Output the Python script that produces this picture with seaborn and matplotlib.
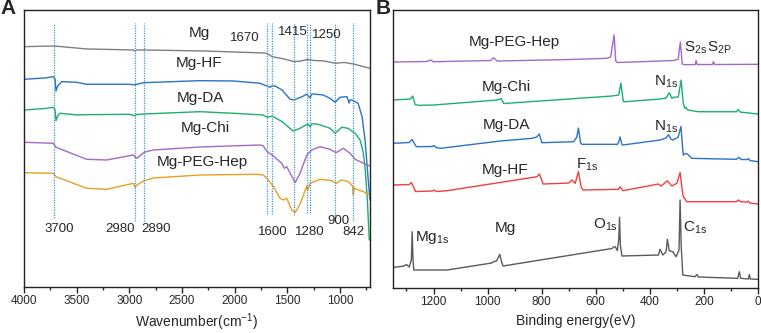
import numpy as np
import pandas as pd
import matplotlib
matplotlib.use("Agg")
import matplotlib.pyplot as plt
from matplotlib.ticker import MultipleLocator
import seaborn as sns

# ---------------- Panel A: FTIR (wavenumber, transmittance a.u.) ----------------
mg_wn = [4000, 3715, 3405, 2960, 2946, 2930, 2860, 2300, 1727, 1692, 1645, 1530, 1436, 1370, 1309, 1250, 1150, 1046, 960, 873, 800, 715]
mg_t = [253.3, 254, 251, 250, 248.8, 250, 250, 249, 247, 246.5, 243.3, 241, 238.3, 239, 240.5, 239.5, 239, 236.7, 237.5, 236, 234, 231.7]

blue_wn = [4000, 3800, 3722, 3705, 3696, 3680, 3642, 3500, 3405, 3000, 2946, 2930, 2860, 2329, 2015, 1759, 1730, 1664, 1645, 1616, 1550, 1474, 1436, 1359, 1315, 1284, 1268, 1255, 1160, 1094, 1046, 1000, 933, 914, 904, 888, 828, 790, 762, 743, 724, 715]
blue_t = [220.7, 222, 223.3, 221, 209, 214, 218.3, 217.7, 215.7, 215.7, 215, 215.7, 217.3, 219.3, 219, 216.7, 215.5, 212.7, 214, 214, 210, 200.7, 200, 203.3, 205.7, 202, 206, 206, 205, 201.7, 197.7, 202.7, 203.3, 197, 200, 200, 196.7, 183.3, 160, 135, 110, 100]

green_wn = [4000, 3800, 3722, 3705, 3696, 3680, 3658, 3500, 3405, 3000, 2946, 2930, 2860, 2329, 2015, 1730, 1692, 1645, 1550, 1445, 1379, 1303, 1284, 1268, 1217, 1094, 1046, 983, 923, 857, 809, 780, 760, 740, 722]
green_t = [190, 191.5, 192.7, 190, 179.3, 184, 186.7, 185, 185.3, 185.7, 184.3, 185.5, 186, 188.3, 186.7, 185, 182.7, 184, 178.3, 169, 171.7, 176, 173.3, 176, 176, 171.7, 166.7, 172.7, 171.7, 166.7, 160, 148, 130, 100, 60]

purple_wn = [4000, 3722, 3696, 3405, 3215, 2960, 2946, 2927, 2860, 2772, 2329, 1759, 1730, 1692, 1645, 1553, 1528, 1505, 1426, 1379, 1315, 1268, 1189, 1094, 1037, 968, 904, 857, 778, 715]
purple_t = [157.7, 156.7, 152.7, 140.7, 140, 145, 143, 141.7, 147.7, 150, 153, 155, 154.3, 148.3, 145, 136.7, 131.7, 133.3, 117.3, 126.7, 145, 150, 153.3, 150.7, 147.3, 151.7, 146.7, 140.7, 136.7, 134]

orange_wn = [4000, 3722, 3696, 3405, 3215, 2960, 2946, 2927, 2860, 2772, 2329, 1790, 1727, 1680, 1632, 1569, 1537, 1505, 1458, 1426, 1379, 1315, 1307, 1284, 1189, 1078, 1037, 983, 920, 880, 873, 866, 840, 778, 715]
orange_t = [127.3, 126.7, 123.3, 111.7, 110.7, 116.7, 112.7, 115, 119.3, 122, 125, 125.7, 125, 120, 113.3, 101.7, 100, 101.7, 90, 87.3, 96, 114, 109.3, 116.7, 120.7, 119.3, 116.7, 120, 118.3, 114, 105, 112, 110.7, 108.3, 105]

ftir_marks = [3712, 2946, 2857, 1695, 1648, 1436, 1309, 1284, 1046, 873]
ftir_mark_labels = ["3700", "2980", "2890", "1670", "1600", "1415", "1280", "1250", "900", "842"]

# ---------------- Panel B: XPS (binding energy, intensity a.u.) ----------------
x_mg = [1350, 1310, 1300, 1290, 1282, 1279, 1276, 1273, 1150, 985, 977, 967, 958, 955, 948, 943, 540, 534, 528, 520, 515, 512, 509, 503, 368, 362, 352, 340, 335, 328, 315, 303, 292, 288, 284, 278, 233, 226, 220, 75, 69, 64, 35, 32, 28, 0]
i_mg = [32.5, 34, 35.5, 33, 40, 68.3, 40, 30, 30, 37, 38.5, 39, 44, 45.5, 38, 34, 51.5, 53, 53.3, 49.5, 60, 82.7, 55, 44, 45, 50.7, 45, 48, 60.7, 49.3, 48.3, 43.3, 50, 100, 55, 25, 23.3, 25.5, 23, 21.7, 28.3, 21.7, 21, 25.5, 21, 20.7]

x_hf = [1350, 1290, 1282, 1272, 1267, 1205, 1199, 1190, 1150, 817, 808, 795, 700, 688, 676, 664, 654, 647, 516, 510, 500, 368, 358, 335, 319, 300, 288, 280, 276, 263, 80, 72, 65, 40, 35, 30, 0]
i_hf = [115, 115.5, 117.5, 112, 108.5, 109, 110, 108.5, 109.3, 123.3, 126, 116, 117, 120, 116.7, 128.5, 113, 110, 110.7, 113.3, 109.3, 116, 114, 119.3, 114, 116.7, 127.5, 110, 103.3, 98.3, 98.3, 100, 98.3, 98, 99, 97, 96]

x_da = [1350, 1290, 1279, 1270, 1263, 1205, 1199, 1190, 1174, 953, 836, 818, 809, 799, 682, 670, 664, 656, 651, 520, 515, 510, 503, 500, 362, 340, 331, 322, 315, 303, 295, 285, 278, 276, 268, 261, 245, 80, 70, 62, 40, 35, 30, 0]
i_da = [156.7, 157.5, 160.5, 156, 153.3, 153.5, 154.5, 152.5, 151.7, 159, 161.7, 163, 166, 157.3, 158.3, 163, 172, 157, 155.7, 155.7, 158, 163, 155.5, 155, 160, 162, 165.3, 161, 160, 161.7, 163, 173.5, 150, 145, 146.5, 146, 141.7, 140.7, 142.7, 140.5, 140.5, 141.5, 139.5, 138.3]

x_chi = [1350, 1285, 1277, 1268, 1255, 1200, 965, 950, 940, 700, 540, 515, 507, 498, 490, 364, 340, 328, 318, 313, 295, 284, 276, 270, 266, 260, 220, 80, 73, 66, 0]
i_chi = [200, 201, 204, 195.5, 194.7, 195, 200, 201.5, 196.5, 201, 204, 205, 217, 198.5, 198.3, 201, 202, 207.3, 201.7, 202.7, 203, 220, 196, 191.7, 192.7, 190, 188.3, 188.3, 190.5, 188, 186]

x_peg = [1350, 1225, 1211, 1200, 990, 977, 965, 700, 560, 545, 532, 526, 520, 310, 295, 287, 280, 270, 232, 229, 225, 168, 165, 160, 0]
i_peg = [238, 238.5, 240, 238.3, 239.5, 242.3, 239, 240.5, 241.7, 243, 265, 239, 237.5, 239.5, 241, 258, 236, 235.3, 235.5, 239.5, 235.5, 235.5, 238.3, 235.5, 235.7]

# ---------------- style ----------------
sns.set_style("ticks")
plt.rcParams["font.family"] = ["Liberation Sans", "DejaVu Sans"]
plt.rcParams["mathtext.default"] = "regular"
plt.rcParams["axes.linewidth"] = 1.0
plt.rcParams["axes.edgecolor"] = "#222222"

fig = plt.figure(figsize=(7.61, 3.33), dpi=100)
axA = fig.add_axes([0.0315, 0.1381, 0.4547, 0.832])
axB = fig.add_axes([0.5164, 0.1351, 0.4796, 0.8348])

C_GRAY = "#7f7f7f"
C_BLUE = "#2a72c8"
C_GREEN = "#1daf6c"
C_PURPLE = "#a468c6"
C_ORANGE = "#e7a122"
C_RED = "#f0403c"
C_GRAYB = "#5a5a5a"

def draw(ax, xs, ys, color):
    df = pd.DataFrame({"x": xs, "y": ys})
    sns.lineplot(data=df, x="x", y="y", ax=ax, color=color, lw=1.0, sort=False, estimator=None)

# Panel A
for xs, ys, c in [(mg_wn, mg_t, C_GRAY), (blue_wn, blue_t, C_BLUE), (green_wn, green_t, C_GREEN),
                  (purple_wn, purple_t, C_PURPLE), (orange_wn, orange_t, C_ORANGE)]:
    draw(axA, xs, ys, c)

mark_bottoms = [82, 79, 79, 86, 86, 85, 87, 87, 82, 79]
for wn, yb in zip(ftir_marks, mark_bottoms):
    axA.vlines(wn, yb, 277, colors="#3d95d0", linestyles=(0, (1, 1)), lw=0.9)

axA.set_xlim(4000, 715)
axA.set_ylim(13, 290)
axA.set_yticks([])
axA.xaxis.set_major_locator(MultipleLocator(500))
axA.xaxis.set_minor_locator(MultipleLocator(250))
axA.tick_params(axis="x", which="major", length=4, width=1, labelsize=8.5, pad=2)
axA.tick_params(axis="x", which="minor", length=2, width=1)
axA.set_xlabel("Wavenumber(cm$^{-1}$)", fontsize=10, labelpad=3)
axA.set_ylabel("")
for s in axA.spines.values():
    s.set_visible(True)

nameA = [("Mg", 2338, 267), ("Mg-HF", 2338, 237), ("Mg-DA", 2329, 202),
         ("Mg-Chi", 2281, 172), ("Mg-PEG-Hep", 2310, 138)]
for t, x, y in nameA:
    axA.text(x, y, t, ha="center", va="center", fontsize=11)
numA = [("1670", 1901, 262), ("1415", 1445, 268), ("1250", 1122, 265),
        ("3700", 3668, 71), ("2980", 3088, 71), ("2890", 2746, 71),
        ("1600", 1635, 68), ("1280", 1284, 68), ("900", 1018, 79), ("842", 876, 68)]
for t, x, y in numA:
    axA.text(x, y, t, ha="center", va="center", fontsize=9.5)

# Panel B
for xs, ys, c in [(x_mg, i_mg, C_GRAYB), (x_hf, i_hf, C_RED), (x_da, i_da, C_BLUE),
                  (x_chi, i_chi, C_GREEN), (x_peg, i_peg, C_PURPLE)]:
    draw(axB, xs, ys, c)

axB.set_xlim(1350, 0)
axB.set_ylim(12, 290)
axB.set_yticks([])
axB.xaxis.set_major_locator(MultipleLocator(200))
axB.xaxis.set_minor_locator(MultipleLocator(100))
axB.tick_params(axis="x", which="major", length=4, width=1, labelsize=8.5, pad=2)
axB.tick_params(axis="x", which="minor", length=2, width=1)
axB.set_xlabel("Binding energy(eV)", fontsize=10, labelpad=4)
axB.set_ylabel("")
for s in axB.spines.values():
    s.set_visible(True)

nameB = [("Mg-PEG-Hep", 901, 258), ("Mg-Chi", 931, 213), ("Mg-DA", 931, 175),
         ("Mg-HF", 934, 130), ("Mg", 934, 72)]
for t, x, y in nameB:
    axB.text(x, y, t, ha="center", va="center", fontsize=11)
peakB = [("S$_{2s}$", 229, 252), ("S$_{2P}$", 144, 252), ("N$_{1s}$", 340, 218),
         ("N$_{1s}$", 340, 173), ("F$_{1s}$", 631, 135), ("Mg$_{1s}$", 1204, 63),
         ("O$_{1s}$", 565, 75), ("C$_{1s}$", 233, 72)]
for t, x, y in peakB:
    axB.text(x, y, t, ha="center", va="center", fontsize=11)

fig.text(0.001, 0.975, "A", fontsize=15, fontweight="bold", ha="left", va="center")
fig.text(0.493, 0.975, "B", fontsize=15, fontweight="bold", ha="left", va="center")

fig.savefig("out.png", dpi=100)
